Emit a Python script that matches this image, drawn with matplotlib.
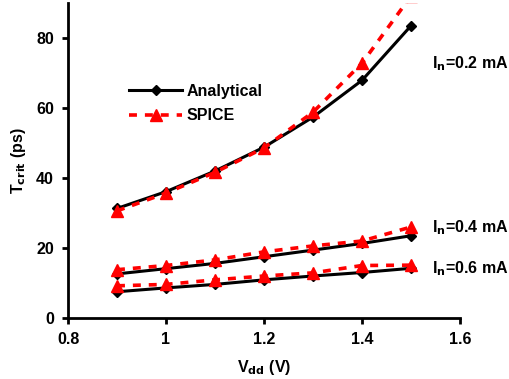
import numpy as np
import matplotlib.pyplot as plt

plt.rcParams['font.family'] = ['Liberation Sans', 'DejaVu Sans']
plt.rcParams['font.weight'] = 'bold'
plt.rcParams['mathtext.default'] = 'bf'

vdd = [0.9, 1.0, 1.1, 1.2, 1.3, 1.4, 1.5]

ana_02 = [31.3, 36.1, 42.0, 48.8, 57.4, 67.9, 83.5]
spi_02 = [30.6, 35.7, 41.6, 48.6, 58.8, 72.8, 92.0]
ana_04 = [12.6, 14.1, 15.6, 17.5, 19.4, 21.3, 23.5]
spi_04 = [13.8, 15.0, 16.6, 18.9, 20.6, 22.0, 26.0]
ana_06 = [7.5, 8.6, 9.6, 10.9, 12.0, 13.0, 14.2]
spi_06 = [9.2, 9.6, 10.9, 12.0, 12.9, 15.0, 15.1]

labels = ['I$_n$=0.2 mA', 'I$_n$=0.4 mA', 'I$_n$=0.6 mA']
label_y = [72.7, 25.9, 14.1]

fig = plt.figure(figsize=(5.09, 3.79), dpi=100)
ax = fig.add_axes([68/509, 61/379, 392/509, 315/379])

black_kw = dict(color='black', lw=2.2, marker='D', ms=5.5)
red_kw = dict(color='red', lw=2.6, ls=(0, (2.2, 2.2)), marker='^', ms=9)

for a, s in [(ana_02, spi_02), (ana_04, spi_04), (ana_06, spi_06)]:
    ax.plot(vdd, a, zorder=3, **black_kw)
    ax.plot(vdd, s, zorder=4, **red_kw)

ax.plot([], [], label='Analytical', **black_kw)
ax.plot([], [], label='SPICE', **red_kw)
ax.legend(loc='upper left', bbox_to_anchor=(0.12, 0.79), frameon=False,
          fontsize=11.5, handlelength=3.3, handletextpad=0.3, labelspacing=0.6)

for t, y in zip(labels, label_y):
    ax.text(1.543, y, t, fontsize=11.5, fontweight='bold', va='center', clip_on=False)

ax.set_xlim(0.8, 1.6)
ax.set_ylim(0, 90)
ax.set_xticks([0.8, 1.0, 1.2, 1.4, 1.6])
ax.set_xticklabels(['0.8', '1', '1.2', '1.4', '1.6'])
ax.set_yticks([0, 20, 40, 60, 80])
ax.spines['top'].set_visible(False)
ax.spines['right'].set_visible(False)
for sp in ['left', 'bottom']:
    ax.spines[sp].set_linewidth(2)
ax.tick_params(width=2, length=4, labelsize=11.5, pad=6)
ax.set_xlabel('V$_{dd}$ (V)', fontsize=11.5, fontweight='bold', labelpad=8)
ax.set_ylabel('T$_{crit}$ (ps)', fontsize=11.5, fontweight='bold', labelpad=6)

plt.savefig('out.png')
